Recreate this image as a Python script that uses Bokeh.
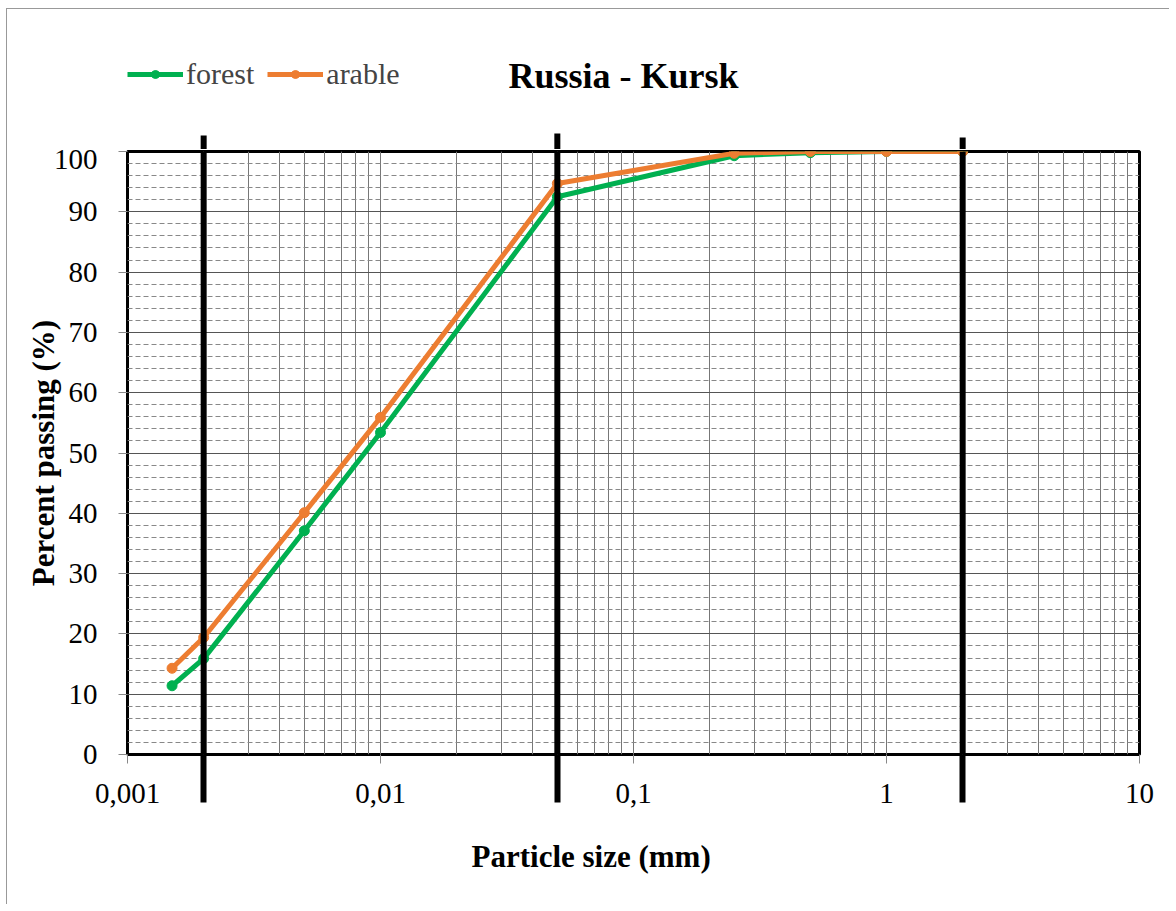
import math
from bokeh.plotting import figure
from bokeh.layouts import column
from bokeh.models import (FixedTicker, SingleIntervalTicker, CustomJSTickFormatter,
                          Legend, LegendItem, Title, Range1d, Span, Label)
from bokeh.embed import file_html
from bokeh.resources import INLINE

# ---- data ----
particle_size = [0.0015, 0.002, 0.005, 0.01, 0.05, 0.25, 0.5, 1, 2]
forest = [11.4, 15.9, 37.1, 53.4, 92.5, 99.3, 99.8, 100, 100]
arable = [14.3, 19.4, 40.1, 55.9, 94.7, 99.7, 100, 100, 100]
boundaries = [0.002, 0.05, 2]
x_ticks = [0.001, 0.01, 0.1, 1, 10]
x_tick_labels = ["0,001", "0,01", "0,1", "1", "10"]
y_ticks_step = 10

GREEN = "#00B050"
ORANGE = "#ED7D31"
SERIF = "Liberation Serif"

x_minor = [k * d for d in [0.001, 0.01, 0.1, 1] for k in range(2, 10)]

# ---------------- layout geometry ----------------
W = 1162
LEFT, RIGHT = 120, 30          # frame borders of the main chart
HEAD_H = 140                   # header (title + legend) height
PX_PER_DEC = (W - LEFT - RIGHT) / 4.0

# ---------------- main chart ----------------
p = figure(width=W, height=755, x_axis_type="log",
           x_range=Range1d(0.001, 10), y_range=Range1d(0, 100),
           output_backend="svg", toolbar_location=None, title=None,
           min_border_left=LEFT, min_border_right=RIGHT,
           min_border_top=2, min_border_bottom=150)

gt = FixedTicker(ticks=x_ticks, minor_ticks=x_minor)          # grid
at = FixedTicker(ticks=x_ticks, minor_ticks=boundaries)       # axis
yt = SingleIntervalTicker(interval=y_ticks_step, num_minor_ticks=5)
p.xaxis.ticker = at
p.yaxis.ticker = yt
p.xgrid.ticker = gt
p.ygrid.ticker = yt
p.xaxis.formatter = CustomJSTickFormatter(args=dict(tvals=x_ticks, tlabels=x_tick_labels), code="""
    for (let i = 0; i < tvals.length; i++) {
        if (Math.abs(Math.log10(tvals[i]) - Math.log10(tick)) < 1e-6) return tlabels[i];
    }
    return "";
""")

for ax in (p.xaxis[0], p.yaxis[0]):
    ax.axis_line_color = None
    ax.major_tick_line_color = "#888888"
    ax.major_tick_line_width = 1
    ax.major_tick_out = 9
    ax.major_tick_in = 0
    ax.major_label_text_font = SERIF
    ax.major_label_text_font_size = "29px"
    ax.major_label_text_color = "black"
p.yaxis.minor_tick_line_color = None
p.xaxis.minor_tick_line_color = "black"
p.xaxis.minor_tick_line_width = 6
p.xaxis.minor_tick_out = 48
p.xaxis.minor_tick_in = 0
p.yaxis.major_label_standoff = 21
p.xaxis.major_label_standoff = -19

p.yaxis.axis_label = "Percent passing (%)"
p.yaxis.axis_label_text_font = SERIF
p.yaxis.axis_label_text_font_size = "31px"
p.yaxis.axis_label_text_font_style = "bold"
p.yaxis.axis_label_text_color = "black"
p.yaxis.axis_label_standoff = -10

p.xgrid.grid_line_color = "#777777"
p.xgrid.grid_line_width = 1
p.xgrid.minor_grid_line_color = "#777777"
p.xgrid.minor_grid_line_width = 1
p.ygrid.grid_line_color = "#555555"
p.ygrid.grid_line_width = 1
p.ygrid.minor_grid_line_color = "#888888"
p.ygrid.minor_grid_line_width = 1
p.ygrid.minor_grid_line_dash = "5 3"

p.outline_line_color = "black"
p.outline_line_width = 3
p.outline_line_alpha = 1.0

p.line(particle_size, forest, line_color=GREEN, line_width=5)
p.scatter(particle_size, forest, size=10, fill_color=GREEN, line_color=GREEN)
p.line(particle_size, arable, line_color=ORANGE, line_width=5)
p.scatter(particle_size, arable, size=10, fill_color=ORANGE, line_color=ORANGE)

for b in boundaries:
    p.add_layout(Span(location=b, dimension="height", line_color="black", line_width=6))

p.add_layout(Title(text="Particle size (mm)", text_font=SERIF, text_font_size="31px",
                   text_font_style="bold", text_color="black",
                   align="left", offset=344, vertical_align="bottom", standoff=62), "below")

# ---------------- header: legend, title, top of boundary lines ----------------
h = figure(width=W, height=HEAD_H, x_axis_type="log",
           x_range=Range1d(0.001, 10), y_range=Range1d(0, HEAD_H),
           output_backend="svg", toolbar_location=None, title=None,
           min_border_left=LEFT, min_border_right=RIGHT,
           min_border_top=0, min_border_bottom=0, outline_line_color=None)
h.axis.visible = False
h.grid.visible = False
h.extra_y_ranges = {"off": Range1d(1000, 1001)}

hf_l = h.line(particle_size, forest, line_color=GREEN, line_width=5, y_range_name="off")
hf_s = h.scatter(particle_size, forest, size=10, fill_color=GREEN, line_color=GREEN, y_range_name="off")
ha_l = h.line(particle_size, arable, line_color=ORANGE, line_width=5, y_range_name="off")
ha_s = h.scatter(particle_size, arable, size=10, fill_color=ORANGE, line_color=ORANGE, y_range_name="off")

h.segment(x0=boundaries, y0=[0, 0, 0], x1=boundaries, y1=[14, 16, 12],
          line_color="black", line_width=6)

legend = Legend(items=[LegendItem(label="forest", renderers=[hf_l, hf_s]),
                       LegendItem(label="arable", renderers=[ha_l, ha_s])],
                orientation="horizontal", location=(0, 58),
                padding=0, margin=0, spacing=13, label_standoff=3,
                glyph_width=56, glyph_height=20,
                border_line_color=None, background_fill_alpha=0,
                label_text_font=SERIF, label_text_font_size="30px")
h.add_layout(legend)

h.add_layout(Label(x=10 ** (-3 + (622 - 126) / PX_PER_DEC), y=74, text="Russia - Kursk",
                   text_font=SERIF, text_font_size="36px", text_font_style="bold",
                   text_color="black", text_align="center", text_baseline="middle"))

layout = column(h, p, spacing=0,
                styles={"margin-left": "6px", "margin-top": "8px",
                        "border-left": "1px solid #999", "border-top": "1px solid #999"})

open("out.html", "w").write(file_html(layout, INLINE))
